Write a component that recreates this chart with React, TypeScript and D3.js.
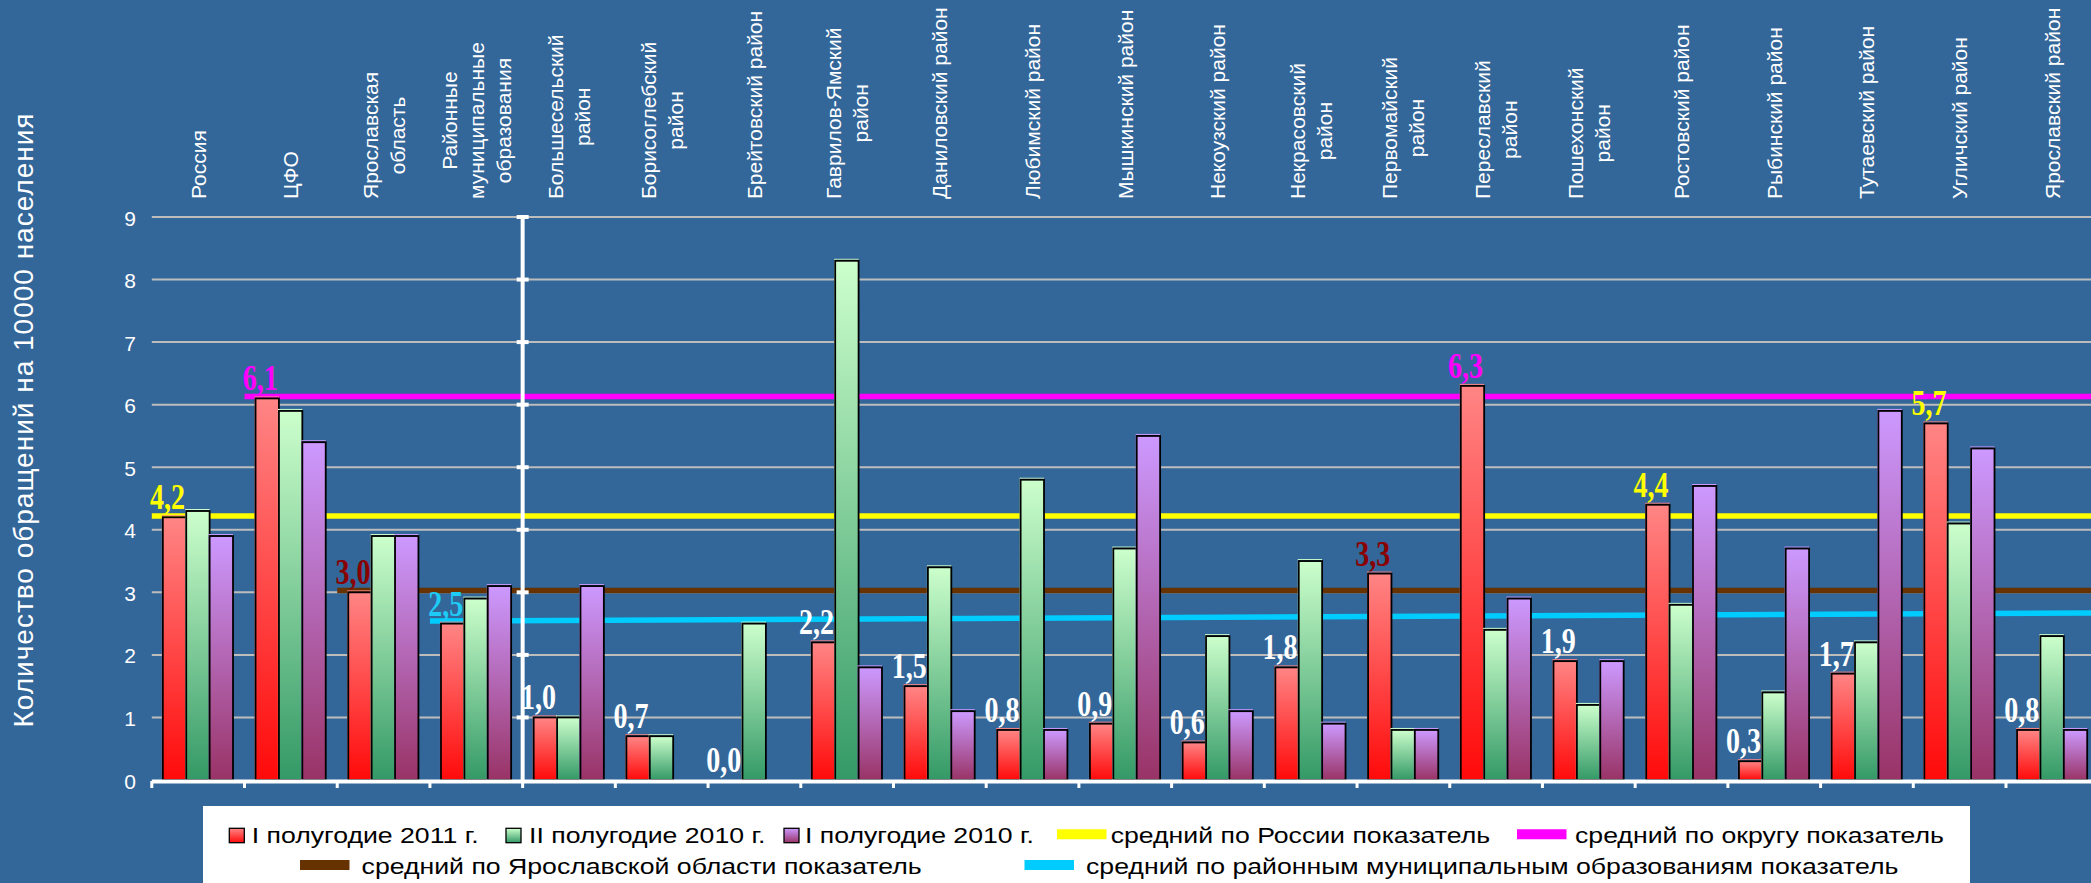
import React from 'react';
import * as d3 from 'd3';

// ---------- DATA ----------
const categories = [
  'Россия',
  'ЦФО',
  'Ярославская\nобласть',
  'Районные\nмуниципальные\nобразования',
  'Большесельский\nрайон',
  'Борисоглебский\nрайон',
  'Брейтовский район',
  'Гаврилов-Ямский\nрайон',
  'Даниловский район',
  'Любимский район',
  'Мышкинский район',
  'Некоузский район',
  'Некрасовский\nрайон',
  'Первомайский\nрайон',
  'Переславский\nрайон',
  'Пошехонский\nрайон',
  'Ростовский район',
  'Рыбинский район',
  'Тутаевский район',
  'Угличский район',
  'Ярославский район',
];

const seriesNames = ['I полугодие 2011 г.', 'II полугодие 2010 г.', 'I полугодие 2010 г.'];
const half1_2011 = [4.2, 6.1, 3.0, 2.5, 1.0, 0.7, 0.0, 2.2, 1.5, 0.8, 0.9, 0.6, 1.8, 3.3, 6.3, 1.9, 4.4, 0.3, 1.7, 5.7, 0.8];
const half2_2010 = [4.3, 5.9, 3.9, 2.9, 1.0, 0.7, 2.5, 8.3, 3.4, 4.8, 3.7, 2.3, 3.5, 0.8, 2.4, 1.2, 2.8, 1.4, 2.2, 4.1, 2.3];
const half1_2010 = [3.9, 5.4, 3.9, 3.1, 3.1, 0.0, 0.0, 1.8, 1.1, 0.8, 5.5, 1.1, 0.9, 0.8, 2.9, 1.9, 4.7, 3.7, 5.9, 5.3, 0.8];
const seriesValues = [half1_2011, half2_2010, half1_2010];

const yTicks = [0, 1, 2, 3, 4, 5, 6, 7, 8, 9];

const refLineNames = [
  'средний по России показатель',
  'средний по округу показатель',
  'средний по Ярославской области показатель',
  'средний по районным муниципальным образованиям показатель',
];
const refLineFrom = [0, 1, 2, 3]; // category index where the line begins
const refLineValues = [
  [4.22, 4.22],
  [6.13, 6.13],
  [3.03, 3.03],
  [2.54, 2.67],
];

const yAxisTitle = 'Количество обращений на 10000 населения';

// ---------- STYLES ----------
const BG = '#336699';
const seriesGrad = [
  ['#FF8585', '#FF0A0A'],
  ['#CCFFCC', '#339966'],
  ['#CC99FF', '#993366'],
];
const refColors = ['#FFFF00', '#FF00FF', '#663300', '#00CCFF'];
const labelColor: Record<number, string> = {
  0: '#FFFF00',
  1: '#FF00FF',
  2: '#8A0000',
  3: '#1ECBF5',
  13: '#8A0000',
  14: '#FF00FF',
  16: '#FFFF00',
  19: '#FFFF00',
};

const W = 2091;
const H = 883;
const plotLeft = 151.8;
const catW = 92.71;
const plotRight = plotLeft + catW * categories.length;
const yBottom = 780;
const yTop = 217;
const SANS = "'Liberation Sans', Arial, sans-serif";
const SERIF = "'Liberation Serif', 'Times New Roman', serif";

let measureCtx: CanvasRenderingContext2D | null = null;
function measure(text: string, font: string) {
  if (!measureCtx) {
    const c = document.createElement('canvas');
    measureCtx = c.getContext('2d');
  }
  if (!measureCtx) return text.length * 11;
  measureCtx.font = font;
  return measureCtx.measureText(text).width;
}

const fmt = (v: number) => v.toFixed(1).replace('.', ',');

export default function App() {
  const x = d3.scaleBand<number>().domain(d3.range(categories.length)).range([plotLeft, plotRight]).padding(0);
  const xs = d3.scaleBand<number>().domain([0, 1, 2]).range([catW * 0.119, catW * 0.876]).padding(0);
  const y = d3.scaleLinear().domain([0, 9]).range([yBottom, yTop]);
  const bw = xs.bandwidth();
  const axisX = x(4)!; // vertical axis crosses between categories 4 and 5

  const lineGen = d3.line<[number, number]>().x((d) => d[0]).y((d) => d[1]);

  const catFontSize = 21;
  const lineStep = 27;

  return (
    <svg width={W} height={H} style={{ position: 'absolute', left: 0, top: 0, display: 'block' }}>
      <defs>
        {seriesGrad.map((g, i) => (
          <linearGradient key={i} id={`g${i}`} x1="0" y1="0" x2="0" y2="1">
            <stop offset="0" stopColor={g[0]} />
            <stop offset="1" stopColor={g[1]} />
          </linearGradient>
        ))}
      </defs>
      <rect x={0} y={0} width={W} height={H} fill={BG} />

      {/* gridlines */}
      {yTicks.filter((t) => t > 0).map((t) => (
        <line key={t} x1={plotLeft} x2={plotRight} y1={y(t)} y2={y(t)} stroke="#BDBDBD" strokeWidth={2} />
      ))}

      {/* y tick labels */}
      {yTicks.map((t) => (
        <text key={t} x={136} y={y(t) + 1} textAnchor="end" dominantBaseline="central" fill="#FFFFFF"
          fontFamily={SANS} fontSize={21}>{t}</text>
      ))}

      {/* y axis title */}
      <text transform={`translate(33,420) rotate(-90)`} textAnchor="middle" fill="#FFFFFF"
        fontFamily={SANS} fontSize={28} letterSpacing={1}>{yAxisTitle}</text>

      {/* reference lines */}
      {refLineValues.map((vals, i) => {
        const pts: [number, number][] = [
          [x(refLineFrom[i])!, y(vals[0])],
          [plotRight, y(vals[1])],
        ];
        return <path key={i} d={lineGen(pts)!} stroke={refColors[i]} strokeWidth={5.5} fill="none" />;
      })}

      {/* bars */}
      {seriesValues.map((vals, s) =>
        vals.map((v, i) => {
          if (v <= 0) return null;
          const bx = x(i)! + xs(s)!;
          const by = y(v);
          return (
            <g key={`${s}-${i}`}>
              <rect x={bx - 0.5} y={by - 1.5} width={bw} height={yBottom - by + 1.5} fill="none"
                stroke={seriesGrad[s][0]} strokeWidth={1} />
              <rect x={bx} y={by} width={bw} height={yBottom - by} fill={`url(#g${s})`} stroke="#000000" strokeWidth={1.8} />
            </g>
          );
        })
      )}

      {/* x axis */}
      <line x1={plotLeft} x2={plotRight} y1={781.5} y2={781.5} stroke="#FFFFFF" strokeWidth={4} />
      {d3.range(categories.length + 1).map((i) => {
        const tx = plotLeft + i * catW;
        return <line key={i} x1={tx} x2={tx} y1={781} y2={788} stroke="#FFFFFF" strokeWidth={3} />;
      })}

      {/* vertical axis in middle */}
      <line x1={axisX} x2={axisX} y1={yTop - 2} y2={yBottom} stroke="#FFFFFF" strokeWidth={4} />
      {yTicks.filter((t) => t > 0).map((t) => (
        <rect key={t} x={axisX - 6} y={y(t) - 2} width={12} height={4} fill="#FFFFFF" />
      ))}

      {/* category labels */}
      {categories.map((c, i) => {
        const lines = c.split('\n');
        const font = `${catFontSize}px 'Liberation Sans', Arial, sans-serif`;
        const maxW = Math.max(...lines.map((l) => measure(l, font)));
        const cx = x(i)! + catW / 2;
        return (
          <g key={i} transform={`translate(${cx},199) rotate(-90)`}>
            {lines.map((l, j) => (
              <text key={j} x={maxW / 2} y={(j - (lines.length - 1) / 2) * lineStep + 7.5}
                textAnchor="middle" fill="#FFFFFF" fontFamily={SANS} fontSize={catFontSize}>{l}</text>
            ))}
          </g>
        );
      })}

      {/* data labels for first series */}
      {half1_2011.map((v, i) => (
        <text key={i} transform={`translate(${x(i)! + xs(0)! + bw / 2 - 7},${y(v) - 8}) scale(1,1.25)`} textAnchor="middle"
          fill={labelColor[i] ?? '#FFFFFF'} fontFamily={SERIF} fontWeight="bold" fontSize={28}>{fmt(v)}</text>
      ))}

      {/* legend */}
      <rect x={203} y={806} width={1767} height={90} fill="#FFFFFF" />
      {[0, 1, 2].map((s) => {
        const sx = [229.3, 506, 784][s];
        const tx = [251.7, 529, 805][s];
        return (
          <g key={s}>
            <rect x={sx} y={828.3} width={15} height={14.4} fill={`url(#g${s})`} stroke="#000" strokeWidth={1.3} />
            <text transform={`translate(${tx},842.7) scale(1.24,1)`} fill="#000" fontFamily={SANS} fontSize={21.5}>{seriesNames[s]}</text>
          </g>
        );
      })}
      {[0, 1, 2, 3].map((r) => {
        const row = r < 2 ? 0 : 1;
        const sx = [1057, 1517, 300, 1024.5][r];
        const tx = [1110.7, 1575, 361.6, 1086][r];
        const ty = row === 0 ? 842.7 : 874;
        const ly = row === 0 ? 834.3 : 865;
        return (
          <g key={r}>
            <line x1={sx} x2={sx + 49.5} y1={ly} y2={ly} stroke={refColors[r]} strokeWidth={10} />
            <text transform={`translate(${tx},${ty}) scale(1.24,1)`} fill="#000" fontFamily={SANS} fontSize={21.5}>{refLineNames[r]}</text>
          </g>
        );
      })}
    </svg>
  );
}
